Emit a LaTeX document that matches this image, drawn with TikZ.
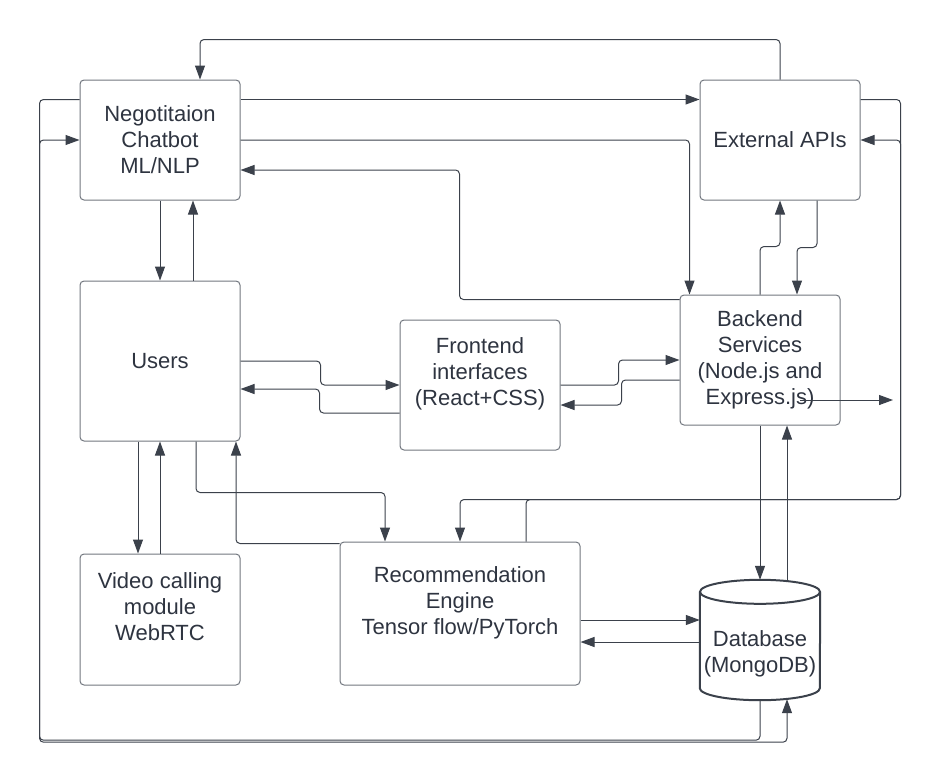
\documentclass[tikz,border=0pt]{standalone}
\usepackage{fontspec}
\setmainfont{Liberation Sans}
\usepackage{tikz}
\usetikzlibrary{positioning, arrows.meta, shapes.geometric, calc}

\definecolor{lineclr}{HTML}{3B414B}
\definecolor{boxclr}{HTML}{72777F}
\definecolor{txtclr}{HTML}{2E3440}

\begin{document}
\begin{tikzpicture}[
  x=1pt, y=-1pt,
  font=\fontsize{22}{26}\selectfont,
  comp/.style={rectangle, draw=boxclr, line width=1pt, rounded corners=4pt, minimum width=160pt, inner sep=0pt, align=center, text=txtclr, fill=white},
  store/.style={rectangle, minimum width=120pt, minimum height=120pt, inner sep=0pt, align=center, text=txtclr},
  drum/.style={draw=lineclr, line width=2pt},
  arr/.style={-{Triangle[length=14pt, width=10pt]}, draw=lineclr, line width=1pt, rounded corners=4pt}
]
  \useasboundingbox (0,0) rectangle (941,782);

  \node[comp, minimum height=120pt] (chatbot) at (160,140) {Negotitaion\\Chatbot\\ML/NLP};
  \node[comp, minimum height=120pt] (ext) at (780,140) {External APIs};
  \node[comp, minimum height=160pt, below=80pt of chatbot] (users) {Users};
  \node[comp, minimum height=130pt] (front) at (480,385) {Frontend\\interfaces\\(React+CSS)\\\mbox{}};
  \node[comp, minimum height=130pt] (backend) at (760,360) {Backend\\Services\\(Node.js and\\Express.js)};
  \node[comp, minimum height=131pt] (video) at (160,619.5) {Video calling\\module\\WebRTC\\\mbox{}};
  \node[comp, minimum width=240pt, minimum height=143pt] (rec) at (460,613.5) {Recommendation\\Engine\\Tensor flow/PyTorch\\\mbox{}};
  \node[store] (db) at (760,640) {\strut\\Database\\(MongoDB)};
  \coordinate (stub) at (893,400);

  \draw[drum] ([yshift=-12pt]db.north west) -- ([yshift=12pt]db.south west)
    arc[start angle=180, end angle=360, x radius=60pt, y radius=12pt] -- ([yshift=-12pt]db.north east);
  \draw[drum] ([yshift=-12pt]db.north) ellipse[x radius=60pt, y radius=12pt];

  \draw[arr] (ext.north) -- ++(0,-40) -| ([xshift=40pt]chatbot.north);
  \draw[arr] ([yshift=-20pt]chatbot.north east) -- ([yshift=-20pt]ext.north west);
  \draw[arr] (chatbot.east) -| ([xshift=10pt]backend.north west);
  \draw[arr] ([yshift=-5pt]backend.north west) -- ++(-220,0) |- ([yshift=-30pt]chatbot.east);
  \draw[arr] (chatbot.south) -- (users.north);
  \draw[arr] ([xshift=33pt]users.north) -- ([xshift=33pt]chatbot.south);
  \draw[arr] ([yshift=-20pt]ext.north east) -- ++(40,0) -- ++(0,400) -| (rec.north);
  \draw[arr] ([xshift=66pt]rec.north) -- ++(0,-42) -| ([xshift=40pt]ext.east) -- (ext.east);
  \draw[arr] ([shift={(40pt,-40pt)}]backend.center) -- (stub);
  \draw[arr] (backend.north) -- ++(0,-48) -| (ext.south);
  \draw[arr] ([xshift=37pt]ext.south) -- ++(0,47) -| ([xshift=37pt]backend.north);
  \draw[arr] (front.east) -- ++(58,0) |- (backend.west);
  \draw[arr] ([yshift=-20pt]backend.west) -- ++(-58,0) |- ([yshift=-20pt]front.east);
  \draw[arr] (users.east) -- ++(80,0) |- (front.west);
  \draw[arr] ([yshift=-28pt]front.west) -- ++(-80,0) |- ([yshift=-28pt]users.east);
  \draw[arr] ([xshift=-22pt]users.south) -- ([xshift=-22pt]video.north);
  \draw[arr] (video.north) -- (users.south);
  \draw[arr] ([xshift=36pt]users.south) -- ++(0,51) -| ([xshift=-75pt]rec.north);
  \draw[arr] ([yshift=-2pt]rec.north west) -| ([xshift=76pt]users.south);
  \draw[arr] ([yshift=-6.5pt]rec.east) -- ([yshift=20pt]db.west);
  \draw[arr] ([yshift=-2pt]db.west) -- ([yshift=-28.5pt]rec.east);
  \draw[arr] (backend.south) -- (db.north);
  \draw[arr] ([shift={(27pt,-1pt)}]db.north) -- ([xshift=27pt]backend.south);
  \draw[arr] (db.south) -- ++(0,40) -| ([xshift=-40pt]chatbot.west) -- (chatbot.west);
  \draw[arr] ([yshift=-20pt]chatbot.north west) -- ++(-40,0) |- ([shift={(27pt,-42pt)}]db.south) -- ([shift={(27pt,1pt)}]db.south);
\end{tikzpicture}
\end{document}
